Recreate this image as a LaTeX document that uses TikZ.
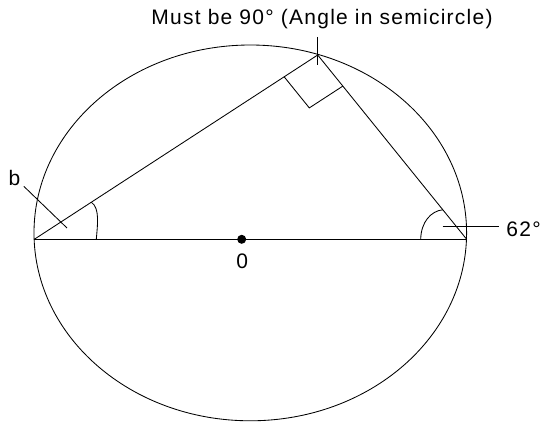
\documentclass[tikz,border=0pt]{standalone}
\usepackage{fontspec}
\setmainfont[LetterSpace=6]{Liberation Sans}
\usetikzlibrary{calc}

\begin{document}
\begin{tikzpicture}[x=1pt,y=-1pt,line width=0.85pt,
  lbl/.style={inner sep=0pt,font=\fontsize{21}{24}\selectfont}]
  \useasboundingbox (0,0) rectangle (547,425);
  % Points
  \coordinate (A) at (34.3,239.3);
  \coordinate (B) at (466.7,239.3);
  \coordinate (P) at (317.7,55);
  \coordinate (O) at (241.7,239.3);

  % Circle and diameter
  \draw (250.3,232.9) ellipse [x radius=216.3pt,y radius=187.9pt];
  \draw (A) -- (B);
  \fill (O) circle [radius=4.5pt];
  \node[lbl,anchor=base] (lblo) at (242.3,268.3) {0};

  % Triangle
  \draw (A) -- (P) -- (B);

  % Right angle at P
  \coordinate (q1) at ($(P)!40pt!(A)$);
  \coordinate (q2) at ($(P)!40pt!(B)$);
  \draw (q1) -- ($(q1)+(q2)-(P)$) -- (q2);

  % Angles at A and B
  \coordinate (a1) at ($(A)!62pt!(B)$);
  \coordinate (a2) at ($(A)!68pt!(P)$);
  \draw (a1) .. controls (97.5,225) and (100,208) .. (a2);
  \coordinate (b1) at ($(B)!46pt!(A)$);
  \coordinate (b2) at ($(B)!38pt!(P)$);
  \draw (b1) .. controls (421,222) and (431,211) .. (b2);

  % Labels
  \node[lbl,anchor=base west] (lbl90) at (151,25)
    {Must be 90° (Angle in semicircle)};
  \coordinate (ptop) at ($(P)+(0,-18)$);
  \draw (ptop) -- ($(P)+(0,10)$);

  \node[lbl,anchor=base west] (lblb) at (8.3,185.7) {b};
  \coordinate (bfoot) at (67,228);
  \draw ([xshift=3pt]lblb.south east) -- (bfoot);

  \node[lbl,anchor=base west] (lbl62) at (506,236.7) {62°};
  \coordinate (t62) at (442.7,226.7);
  \draw[shorten >=7pt] (t62) -- (t62 -| lbl62.west);
\end{tikzpicture}
\end{document}
